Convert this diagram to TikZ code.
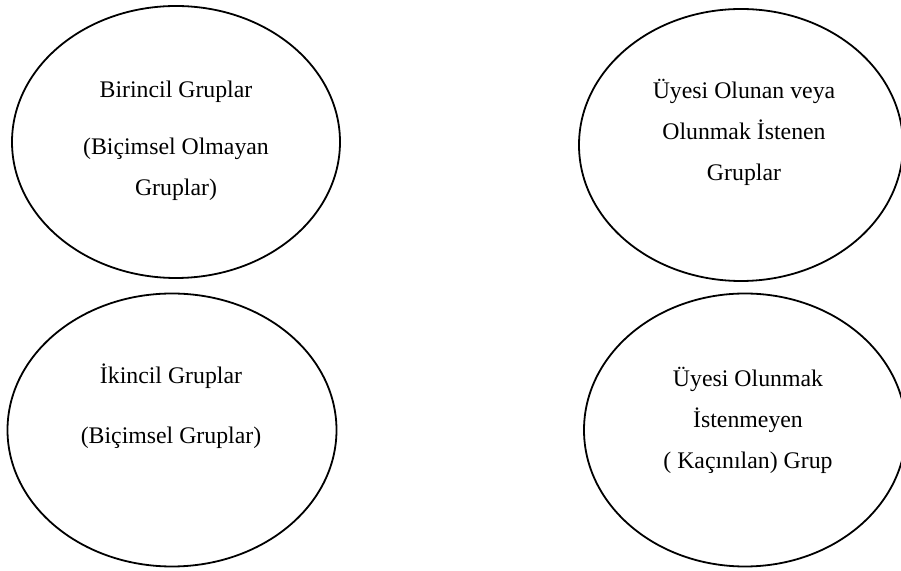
\documentclass[tikz,border=0pt]{standalone}
\usepackage{fontspec}
\setmainfont{Liberation Serif}
\usetikzlibrary{shapes.geometric}

\tikzset{
  grup/.style={draw,ellipse,line width=0.9pt,inner sep=0pt},
  yazi/.style={align=center,inner sep=0pt,font=\fontsize{11.9}{20.5}\selectfont}
}

\begin{document}
\begin{tikzpicture}[x=0.5pt,y=-0.5pt]
        \useasboundingbox (0,0) rectangle (901,571);

        % gruplar
        \node[grup,minimum width=328*0.5pt,minimum height=272*0.5pt] (birincil) at (176,142) {};
        \node[grup,minimum width=324*0.5pt,minimum height=272*0.5pt] (uyesi) at (741,145) {};
        \node[grup,minimum width=329*0.5pt,minimum height=273*0.5pt] (ikincil) at (172,430) {};
        \node[grup,minimum width=322*0.5pt,minimum height=273*0.5pt] (kacinilan) at (745,430) {};

        % yazilar
        \node[yazi] (birinciltxt) at (176,140.5) {Birincil Gruplar\\[8pt](Biçimsel Olmayan\\Gruplar)};
        \node[yazi] (uyesitxt) at (744,132.5) {Üyesi Olunan veya\\Olunmak İstenen\\Gruplar};
        \node[yazi] (ikinciltxt) at (171,406) {İkincil Gruplar\\[9.5pt](Biçimsel Gruplar)};
        \node[yazi] (kacinilantxt) at (748,420) {Üyesi Olunmak\\İstenmeyen\\( Kaçınılan) Grup};
\end{tikzpicture}
\end{document}
